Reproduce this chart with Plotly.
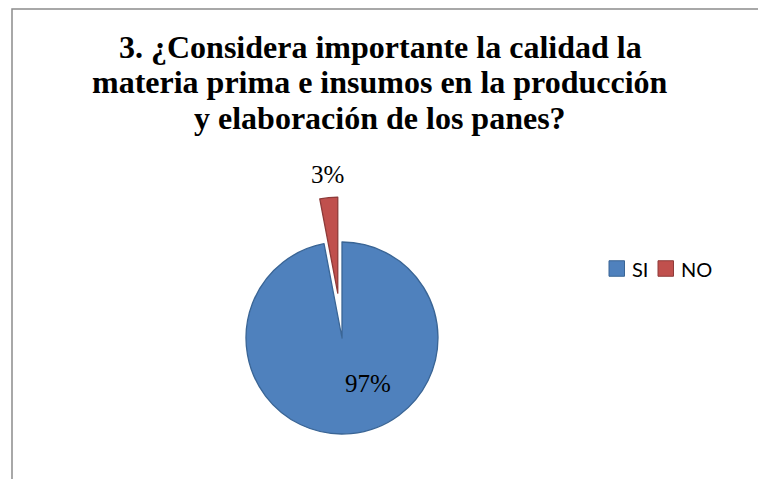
import plotly.graph_objects as go

labels = ["SI", "NO"]
values = [97, 3]
colors = ["#4F81BD", "#C0504D"]
line_colors = ["#3A6595", "#8E3B39"]
pulls = [0, 0.469]

title_lines = [
    "3. ¿Considera importante la calidad la",
    "materia prima e insumos en la producción",
    "y elaboración de los panes?",
]

W, H = 758, 479
cx, cy = 342, 338
half_w = 0.2
dom_y_top = 2 * (H - cy) / H

total = sum(values)
pct_text = [f"{round(100 * v / total)}%" for v in values]
label_pos_px = [(368, 383), (327, 175)]  # label anchor positions (px from top-left)
legend_x_px = [609, 658]                 # legend square left edges (px)
legend_y_px = 268.5                      # legend row centre (px)
legend_sq = 15.5                         # legend square size (px)

fig = go.Figure(go.Pie(
    labels=labels,
    values=values,
    sort=False,
    direction="clockwise",
    rotation=0,
    pull=pulls,
    marker=dict(colors=colors, line=dict(color=line_colors, width=1.3)),
    textinfo="none",
    hoverinfo="label+percent",
    showlegend=False,
    domain=dict(x=[cx / W - half_w, cx / W + half_w], y=[0, dom_y_top]),
))

annotations = []
shapes = [dict(
    type="path", xref="paper", yref="paper",
    path=f"M {12 / W} -0.05 L {12 / W} {1 - 9 / H} L 1.05 {1 - 9 / H}",
    line=dict(color="#8C8C8C", width=1.5),
)]

title_centers = [47, 82, 117.5]
for line, yc in zip(title_lines, title_centers):
    annotations.append(dict(
        text=f"<b>{line}</b>", xref="paper", yref="paper",
        x=380 / W, y=1 - yc / H, xanchor="center", yanchor="middle",
        showarrow=False,
        font=dict(family="Liberation Serif, Times New Roman, serif", size=32, color="#000000"),
    ))
for t, (px, py) in zip(pct_text, label_pos_px):
    annotations.append(dict(
        text=t, xref="paper", yref="paper",
        x=px / W, y=1 - py / H, xanchor="center", yanchor="middle",
        showarrow=False,
        font=dict(family="Liberation Serif, Times New Roman, serif", size=25, color="#000000"),
    ))

# legend: square + label for each category
for lab, col, lcol, lx in zip(labels, colors, line_colors, legend_x_px):
    shapes.append(dict(
        type="rect", xref="paper", yref="paper",
        x0=lx / W, x1=(lx + legend_sq) / W,
        y0=1 - (legend_y_px + legend_sq / 2) / H, y1=1 - (legend_y_px - legend_sq / 2) / H,
        fillcolor=col, line=dict(color=lcol, width=1),
    ))
    annotations.append(dict(
        text=lab, xref="paper", yref="paper",
        x=(lx + legend_sq + 5) / W, y=1 - legend_y_px / H,
        xanchor="left", yanchor="middle", showarrow=False,
        font=dict(family="Lato", size=20, color="#000000"),
    ))

fig.update_layout(
    width=W, height=H,
    margin=dict(l=0, r=0, t=0, b=0, autoexpand=False),
    paper_bgcolor="#FFFFFF",
    plot_bgcolor="#FFFFFF",
    annotations=annotations,
    shapes=shapes,
    showlegend=False,
)

fig.write_html("out.html")
